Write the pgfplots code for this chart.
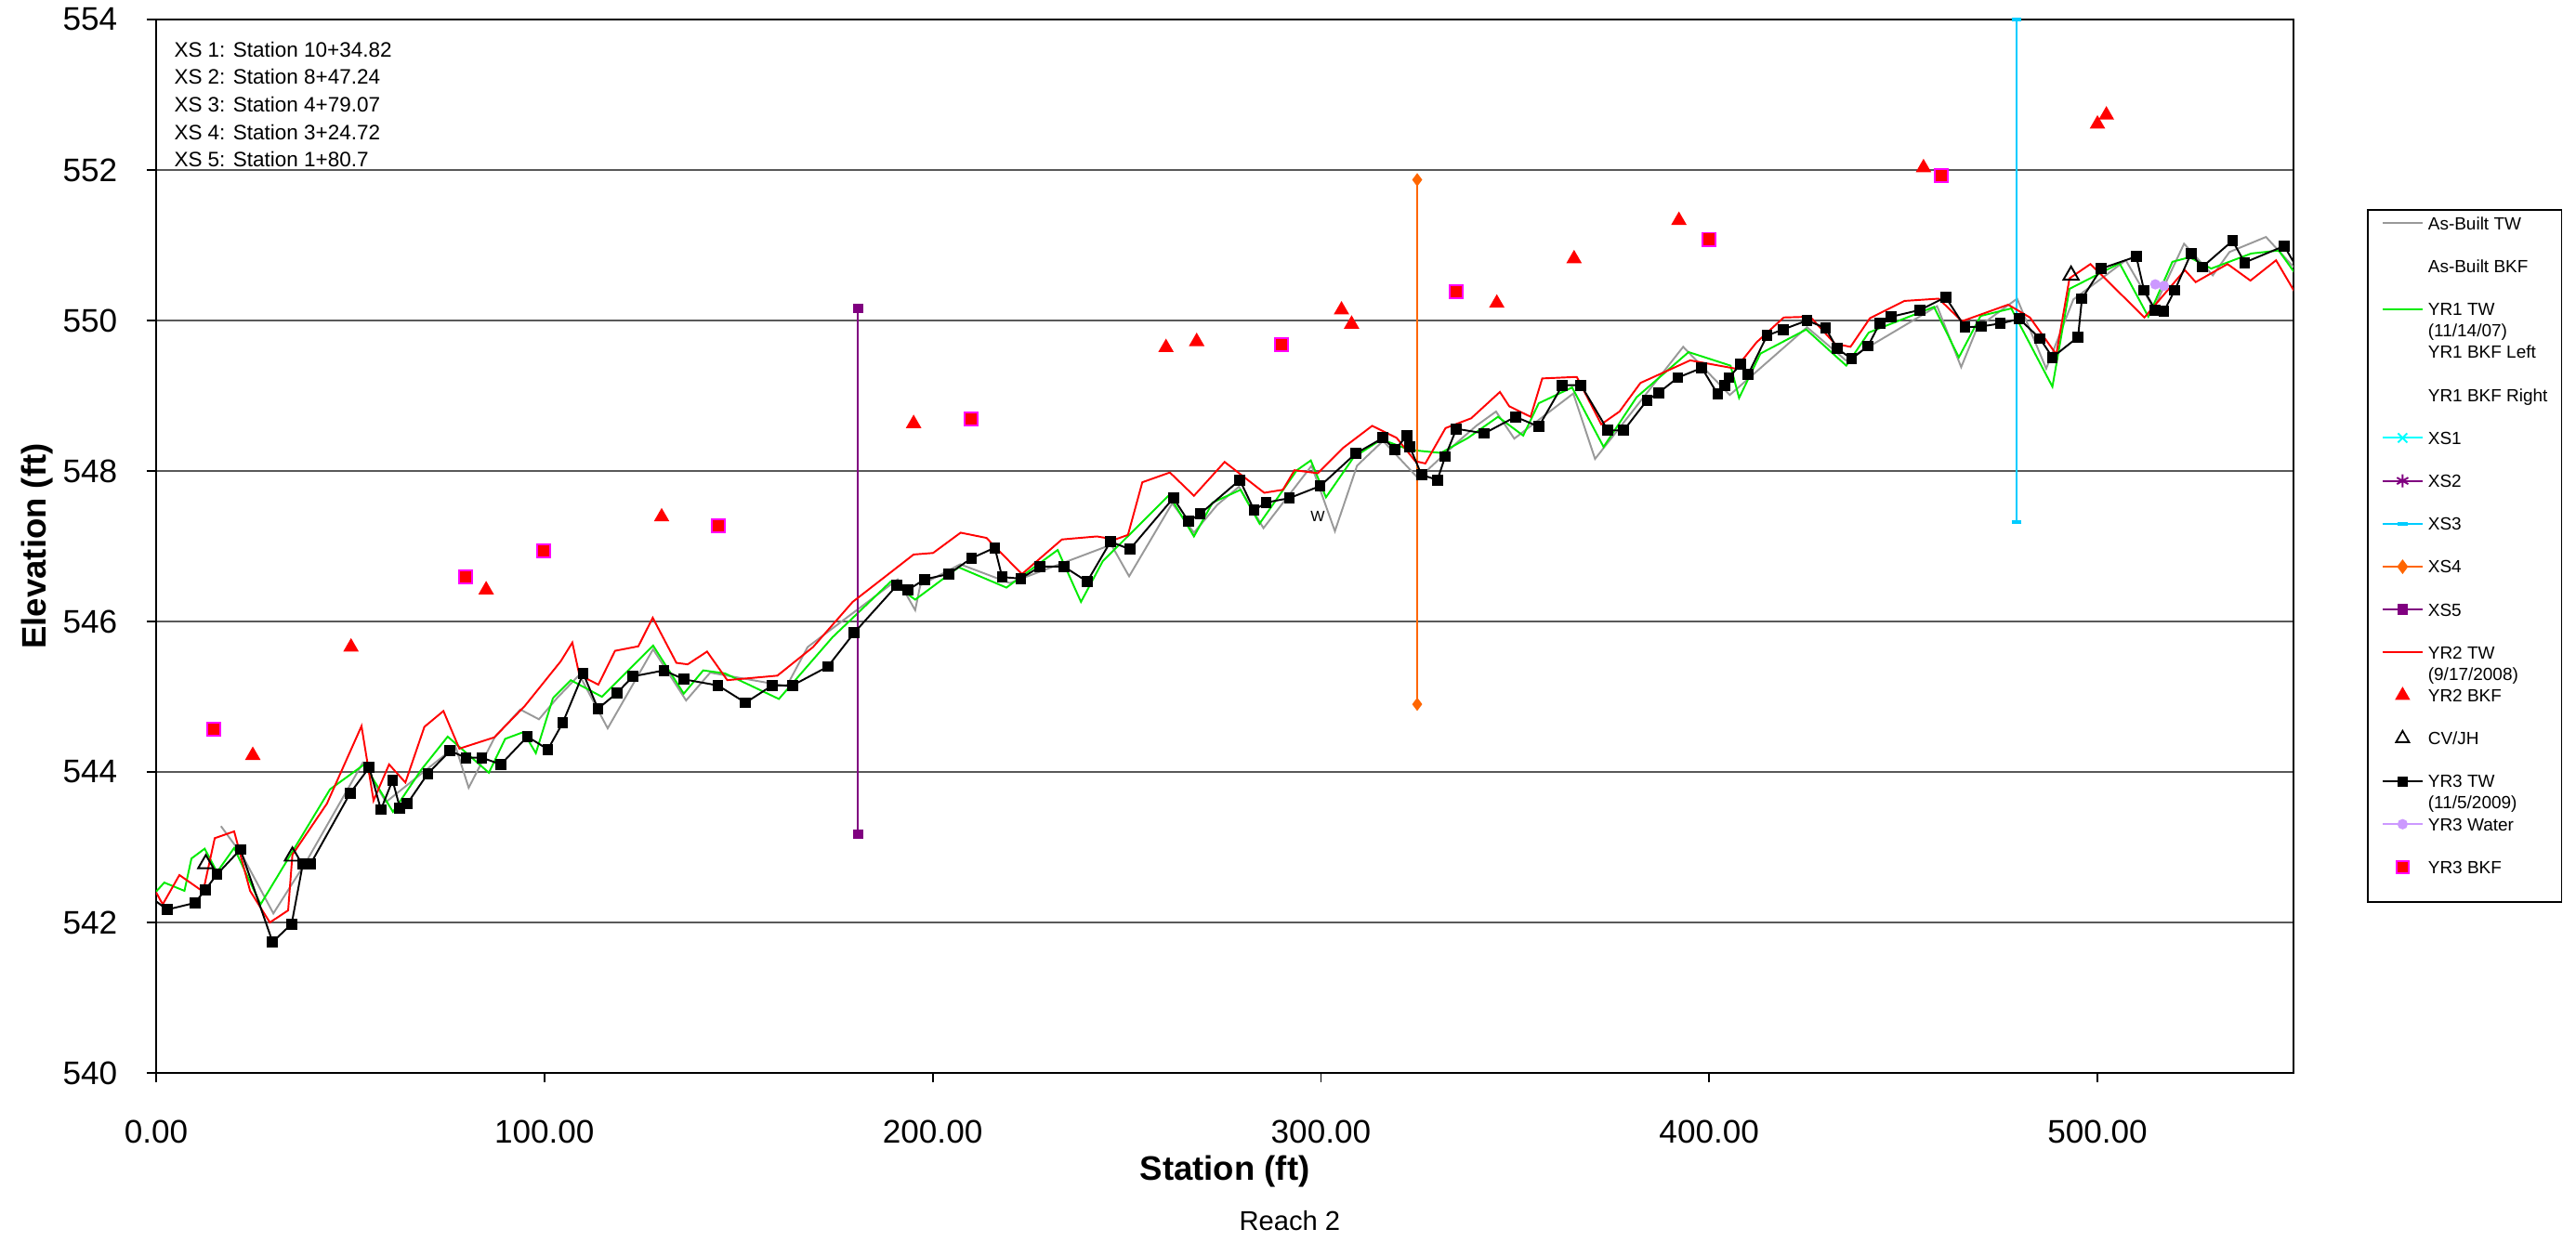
\documentclass[border=0pt]{standalone}
\usepackage{fontspec}
\setmainfont{Liberation Sans}
\usepackage{pgfplots}
\pgfplotsset{compat=1.18}
\definecolor{asb}{RGB}{153,153,153}
\definecolor{yr1}{RGB}{0,235,0}
\definecolor{xsone}{RGB}{0,255,255}
\definecolor{xstwo}{RGB}{128,0,128}
\definecolor{xsthree}{RGB}{0,204,255}
\definecolor{xsfour}{RGB}{255,102,0}
\definecolor{xsfive}{RGB}{128,0,128}
\definecolor{yrthreew}{RGB}{204,153,255}
\definecolor{mag}{RGB}{255,0,255}
\pgfplotsset{lg/.style={legend image code/.code={\draw[mark repeat=2,mark phase=2,##1] plot coordinates {(0cm,0cm) (0.215cm,0cm) (0.43cm,0cm)};}}}
\begin{document}
\begin{tikzpicture}
\useasboundingbox (-1.68cm,-1.81cm) rectangle (26.04cm,11.55cm);
\begin{axis}[
  name=ax, at={(0,0)}, anchor=south west,
  scale only axis, width=23cm, height=11.34cm,
  xmin=0, xmax=550.5, ymin=540, ymax=554,
  clip mode=individual,
  axis line style={black, line width=0.6pt},
  xtick={0,100,200,300,400,500},
  xticklabels={0.00,100.00,200.00,300.00,400.00,500.00},
  ytick={540,542,544,546,548,550,552,554},
  yticklabels={540,542,544,546,548,550,552,554},
  tick align=outside, major tick length=0.1cm, tick pos=left,
  tick style={black, line width=0.5pt},
  ymajorgrids, major grid style={black!65, line width=0.55pt},
  tick label style={font=\fontsize{10}{12}\selectfont, inner sep=0pt},
  xticklabel shift=0.405cm, yticklabel shift=0.31cm,
  xlabel={\textbf{Station (ft)}}, ylabel={\textbf{Elevation (ft)}},
  label style={font=\fontsize{10.4}{12}\selectfont},
  xlabel style={at={(axis description cs:0.5,-0.0935)}, anchor=center},
  ylabel style={at={(axis description cs:-0.05565,0.5)}, anchor=center},
  legend cell align=left,
  legend style={at={(1,1)}, anchor=north west, xshift=0.79cm, yshift=-2.04cm,
     draw=black, line width=0.5pt, inner xsep=0.15cm, inner ysep=0.03cm,
     row sep=0pt, column sep=0.05cm,
     font=\fontsize{5.4}{6}\selectfont,
     nodes={inner sep=0pt, text height=0.1835cm, text depth=0.0475cm}},
]
% ---- legend (entries only) ----
\addlegendimage{color=asb, line width=0.55pt, lg}\addlegendentry{As-Built TW}
\addlegendimage{empty legend}\addlegendentry{~}
\addlegendimage{empty legend}\addlegendentry{As-Built BKF}
\addlegendimage{empty legend}\addlegendentry{~}
\addlegendimage{color=yr1, line width=0.55pt, lg}\addlegendentry{YR1 TW}
\addlegendimage{empty legend}\addlegendentry{(11/14/07)}
\addlegendimage{empty legend}\addlegendentry{YR1 BKF Left}
\addlegendimage{empty legend}\addlegendentry{~}
\addlegendimage{empty legend}\addlegendentry{YR1 BKF Right}
\addlegendimage{empty legend}\addlegendentry{~}
\addlegendimage{color=xsone, line width=0.55pt, mark=x, mark size=2pt, lg}\addlegendentry{XS1}
\addlegendimage{empty legend}\addlegendentry{~}
\addlegendimage{color=xstwo, line width=0.55pt, mark=asterisk, mark size=2pt, lg}\addlegendentry{XS2}
\addlegendimage{empty legend}\addlegendentry{~}
\addlegendimage{color=xsthree, line width=0.55pt, mark=-, mark size=1.6pt, mark options={line width=1.2pt}, lg}\addlegendentry{XS3}
\addlegendimage{empty legend}\addlegendentry{~}
\addlegendimage{color=xsfour, line width=0.55pt, mark=diamond*, mark size=1.8pt, lg}\addlegendentry{XS4}
\addlegendimage{empty legend}\addlegendentry{~}
\addlegendimage{color=xsfive, line width=0.55pt, mark=square*, mark size=1.4pt, lg}\addlegendentry{XS5}
\addlegendimage{empty legend}\addlegendentry{~}
\addlegendimage{color=red, line width=0.55pt, lg}\addlegendentry{YR2 TW}
\addlegendimage{empty legend}\addlegendentry{(9/17/2008)}
\addlegendimage{only marks, color=red, mark=triangle*, mark size=2.2pt, lg}\addlegendentry{YR2 BKF}
\addlegendimage{empty legend}\addlegendentry{~}
\addlegendimage{only marks, color=black, mark=triangle, mark size=2.3pt, line width=0.5pt, lg}\addlegendentry{CV/JH}
\addlegendimage{empty legend}\addlegendentry{~}
\addlegendimage{color=black, line width=0.55pt, mark=square*, mark size=1.3pt, lg}\addlegendentry{YR3 TW}
\addlegendimage{empty legend}\addlegendentry{(11/5/2009)}
\addlegendimage{color=yrthreew, line width=0.55pt, mark=*, mark size=1.3pt, lg}\addlegendentry{YR3 Water}
\addlegendimage{empty legend}\addlegendentry{~}
\addlegendimage{only marks, mark=square*, mark size=1.8pt, mark options={fill=red, draw=mag, line width=0.5pt}, lg}\addlegendentry{YR3 BKF}
\addlegendimage{empty legend}\addlegendentry{~}

% ---- As-Built TW ----
\addplot[forget plot, color=asb, line width=0.55pt] coordinates {
(16.7,543.28) (22.1,542.90) (30.2,542.12) (38.8,542.82) (53.2,544.12) (59.2,543.60)
(77.1,544.34) (80.5,543.79) (87.2,544.46) (93.8,544.83) (98.6,544.70) (103.4,544.99)
(109.0,545.29) (116.3,544.58) (128.0,545.63) (136.5,544.95) (142.7,545.32) (162.4,545.14)
(167.8,545.66) (191.0,546.56) (195.5,546.15) (196.8,546.48) (207.1,546.76) (219.9,546.51)
(222.9,546.57) (246.0,547.02) (250.6,546.60) (261.7,547.57) (267.3,547.18) (273.3,547.55)
(278.9,547.79) (285.2,547.24) (297.6,548.07) (303.6,547.20) (309.3,548.07) (316.0,548.40)
(325.1,547.90) (334.9,548.37) (340.0,548.60) (345.1,548.79) (349.8,548.43) (365.0,549.03)
(370.6,548.16) (393.3,549.65) (405.3,549.01) (425.2,549.91) (435.2,549.47) (458.7,550.19)
(464.9,549.38) (469.0,549.90) (479.3,550.29) (486.8,549.36) (493.8,550.28) (507.3,550.80)
(514.5,550.16) (522.3,551.02) (529.7,550.60) (534.0,550.91) (543.4,551.11) (552.5,550.60)
};
% ---- YR1 TW ----
\addplot[forget plot, color=yr1, line width=0.55pt] coordinates {
(0,542.41) (2.1,542.53) (7.3,542.42) (9.1,542.85) (12.5,542.98) (15.7,542.67) (20.1,542.99)
(26.9,542.24) (44.8,543.77) (53.6,544.10) (61.0,543.47) (68.3,544.03) (75.1,544.47)
(85.7,543.99) (89.9,544.44) (94.6,544.53) (97.8,544.25) (102.2,544.98) (106.8,545.22)
(114.8,545.00) (128.0,545.68) (135.9,545.04) (140.9,545.35) (146.5,545.31) (160.4,544.97)
(174.2,545.79) (189.2,546.53) (195.5,546.29) (206.7,546.72) (219.0,546.45) (232.2,546.95)
(238.2,546.26) (243.8,546.80) (260.9,547.68) (267.3,547.13) (272.1,547.58) (279.3,547.75)
(284.2,547.30) (293.8,548.01) (297.4,548.14) (301.3,547.65) (308.4,548.18) (315.6,548.42)
(322.9,548.28) (330.9,548.24) (337.9,548.44) (345.6,548.72) (352.1,548.47) (356.1,548.90)
(364.7,549.11) (372.8,548.32) (381.3,548.98) (394.7,549.58) (405.5,549.40) (407.7,548.97)
(413.2,549.56) (425.0,549.88) (435.3,549.40) (441.1,549.84) (447.5,549.97) (457.9,550.18)
(464.3,549.51) (469.9,550.06) (477.8,550.16) (488.4,549.12) (492.8,550.42) (505.7,550.76)
(513.1,550.05) (519.3,550.78) (523.7,550.84) (529.3,550.69) (539.6,550.89) (546.7,550.93)
(552.5,550.51)
};
% ---- XS lines ----
\addplot[forget plot, color=xsfive, line width=0.55pt, mark=square*, mark size=1.2pt] coordinates {(180.8,543.17) (180.8,550.16)};
\addplot[forget plot, color=xsfour, line width=0.55pt, mark=diamond*, mark size=1.6pt] coordinates {(324.8,544.90) (324.8,551.87)};
\addplot[forget plot, color=xsthree, line width=0.55pt, mark=-, mark size=1.5pt, mark options={line width=1pt}] coordinates {(479.2,547.32) (479.2,554.0)};
% ---- YR2 TW ----
\addplot[forget plot, color=red, line width=0.55pt] coordinates {
(0,542.40) (1.7,542.24) (6.0,542.63) (12.1,542.41) (15.1,543.12) (20.1,543.21) (24.2,542.42)
(29.3,542.00) (34.0,542.16) (35.1,542.90) (44.0,543.58) (52.9,544.61) (56.0,543.62)
(60.0,544.10) (64.2,543.86) (69.1,544.60) (74.0,544.81) (78.1,544.31) (87.1,544.46)
(95.0,544.88) (104.2,545.47) (107.2,545.72) (109.0,545.29) (113.9,545.16) (118.2,545.61)
(124.2,545.67) (127.9,546.05) (134.0,545.45) (136.9,545.43) (141.9,545.60) (147.1,545.22)
(160.0,545.28) (169.2,545.66) (179.4,546.26) (195.1,546.89) (200.1,546.91) (207.2,547.18)
(213.9,547.11) (215.7,547.01) (223.0,546.63) (233.3,547.09) (242.3,547.13) (247.0,547.09)
(250.3,547.15) (254.0,547.85) (261.1,547.98) (267.3,547.67) (275.2,548.12) (285.4,547.71)
(290.2,547.75) (293.2,548.01) (299.2,547.97) (305.8,548.31) (313.2,548.60) (319.5,548.44)
(324.3,548.13) (326.9,548.10) (332.1,548.57) (338.7,548.70) (346.1,549.05) (348.5,548.86)
(354.0,548.72) (357.0,549.23) (365.9,549.25) (372.2,548.62) (376.9,548.79) (382.3,549.17)
(395.1,549.47) (406.8,549.36) (412.2,549.71) (419.2,550.04) (426.0,550.05) (432.4,549.69)
(436.4,549.65) (441.4,550.03) (450.3,550.26) (459.1,550.29) (465.1,549.99) (477.0,550.21)
(482.6,550.04) (489.4,549.55) (492.8,550.56) (498.2,550.75) (512.1,550.04) (522.5,550.67)
(525.3,550.51) (533.5,550.75) (539.4,550.53) (546.0,550.80) (552.5,550.23)
};
% ---- YR2 BKF ----
\addplot[forget plot, only marks, color=red, mark=triangle*, mark size=2.35pt] coordinates {
(24.9,544.22) (50.2,545.66) (85.0,546.42) (130.2,547.39) (195.1,548.63) (260.1,549.64)
(268.0,549.72) (305.3,550.14) (307.9,549.95) (345.3,550.23) (365.2,550.82) (392.2,551.33)
(455.2,552.03) (500.0,552.61) (502.3,552.73)
};
% ---- CV/JH ----
\addplot[forget plot, only marks, color=black, mark=triangle, mark size=2.7pt, line width=0.55pt] coordinates {
(12.8,542.78) (35.1,542.88) (493.2,550.60)
};
% ---- YR3 TW ----
\addplot[forget plot, color=black, line width=0.55pt, mark=square*, mark size=1.4pt] coordinates {
(-2,542.36) (2.8,542.17) (10.0,542.26) (12.6,542.43) (15.7,542.64) (21.7,542.97) (30.0,541.74)
(34.9,541.98) (37.8,542.78) (39.8,542.78) (50.0,543.72) (54.9,544.06) (57.9,543.50)
(60.9,543.89) (62.8,543.52) (64.7,543.58) (70.0,543.98) (75.7,544.28) (79.8,544.19)
(83.9,544.19) (88.8,544.10) (95.6,544.47) (100.9,544.30) (104.7,544.65) (110.0,545.31)
(113.8,544.84) (118.7,545.05) (122.8,545.27) (130.8,545.35) (136.0,545.23) (144.7,545.15)
(151.8,544.92) (158.7,545.15) (163.9,545.15) (173.0,545.40) (179.8,545.85) (190.8,546.48)
(193.7,546.42) (197.9,546.56) (204.1,546.63) (210.0,546.84) (216.0,546.98) (217.9,546.59)
(222.7,546.57) (227.7,546.73) (233.8,546.73) (239.8,546.53) (245.8,547.06) (250.8,546.96)
(262.0,547.64) (265.9,547.33) (268.9,547.43) (279.1,547.88) (282.8,547.48) (285.9,547.58)
(291.9,547.64) (299.8,547.80) (308.9,548.23) (316.0,548.44) (319.1,548.28) (322.1,548.47)
(322.9,548.32) (325.9,547.95) (330.0,547.88) (332.0,548.19) (334.9,548.56) (342.1,548.50)
(350.1,548.72) (356.1,548.59) (362.2,549.14) (367.0,549.14) (373.9,548.54) (378.0,548.54)
(384.0,548.94) (387.0,549.04) (391.9,549.24) (398.1,549.37) (402.2,549.02) (404.0,549.14)
(405.1,549.24) (408.1,549.42) (410.0,549.28) (414.9,549.80) (419.0,549.88) (425.2,550.00)
(430.0,549.90) (432.9,549.63) (436.7,549.49) (440.9,549.66) (443.9,549.96) (446.9,550.05)
(454.3,550.14) (460.9,550.31) (465.9,549.91) (470.0,549.92) (475.0,549.96) (479.9,550.02)
(485.2,549.76) (488.4,549.51) (495.0,549.78) (496.0,550.29) (501.0,550.69) (510.0,550.85)
(512.0,550.40) (514.9,550.14) (517.1,550.12) (519.9,550.40) (524.1,550.89) (527.0,550.71)
(534.8,551.06) (537.9,550.77) (548.1,550.99) (552.5,550.60)
};
% ---- YR3 Water ----
\addplot[forget plot, color=yrthreew, line width=0.55pt, mark=*, mark size=1.3pt] coordinates {
(514.9,550.48) (517.1,550.46)
};
% ---- YR3 BKF ----
\addplot[forget plot, only marks, mark=square*, mark size=2pt, mark options={fill=red, draw=mag, line width=0.55pt}] coordinates {
(14.9,544.57) (79.8,546.59) (99.9,546.94) (144.7,547.27) (209.9,548.69) (289.9,549.68)
(334.9,550.38) (399.9,551.08) (459.8,551.93)
};
% ---- texts ----
\node[anchor=base west, inner sep=0pt, font=\fontsize{6.4}{8}\selectfont] at (axis cs:4.5,553.501) {XS 1: Station 10+34.82};
\node[anchor=base west, inner sep=0pt, font=\fontsize{6.4}{8}\selectfont] at (axis cs:4.5,553.136) {XS 2: Station 8+47.24};
\node[anchor=base west, inner sep=0pt, font=\fontsize{6.4}{8}\selectfont] at (axis cs:4.5,552.770) {XS 3: Station 4+79.07};
\node[anchor=base west, inner sep=0pt, font=\fontsize{6.4}{8}\selectfont] at (axis cs:4.5,552.405) {XS 4: Station 3+24.72};
\node[anchor=base west, inner sep=0pt, font=\fontsize{6.4}{8}\selectfont] at (axis cs:4.5,552.040) {XS 5: Station 1+80.7};
\node[inner sep=0pt, font=\fontsize{4.6}{5}\selectfont] at (axis cs:299.2,547.40) {W};
\node[inner sep=0pt, font=\fontsize{8.3}{10}\selectfont] at (axis description cs:0.5304,-0.1402) {Reach 2};
\end{axis}
\end{tikzpicture}
\end{document}
